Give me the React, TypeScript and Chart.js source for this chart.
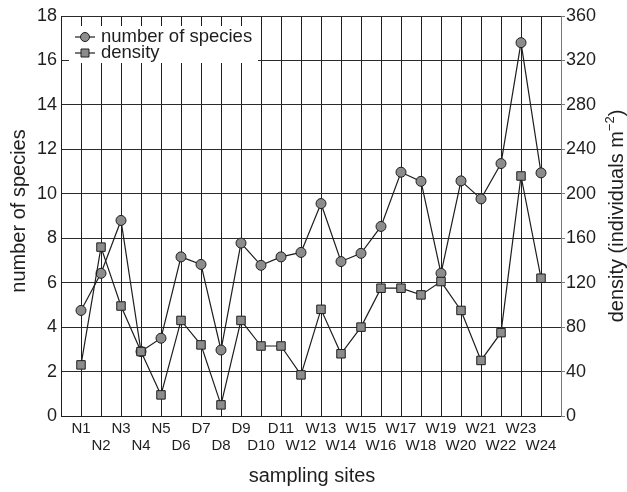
import React, { useEffect, useRef } from "react";
import { Chart, registerables } from "chart.js";

Chart.register(...registerables);

const sites = [
  "N1", "N2", "N3", "N4", "N5", "D6", "D7", "D8", "D9", "D10", "D11", "W12",
  "W13", "W14", "W15", "W16", "W17", "W18", "W19", "W20", "W21", "W22", "W23", "W24",
];
const speciesCount = [
  4.75, 6.42, 8.8, 2.9, 3.5, 7.16, 6.82, 2.97, 7.78, 6.78, 7.16, 7.36,
  9.56, 6.95, 7.32, 8.53, 10.97, 10.56, 6.42, 10.58, 9.77, 11.36, 16.8, 10.94,
];
const density = [
  46, 152, 99, 58, 19, 86, 64, 10, 86, 63, 63, 37,
  96, 56, 80, 115, 115, 109, 121, 95, 50, 75, 216, 124,
];
const speciesTicks = { min: 0, max: 18, step: 2 };
const densityTicks = { min: 0, max: 360, step: 40 };

const FONT = "'Liberation Sans', Arial, Helvetica, sans-serif";
const MARKER_FILL = "#8c8c8c";
const INK = "#1e1e1e";

const overlayPlugin = {
  id: "overlay",
  beforeDatasetsDraw(chart: any) {
    const { ctx, chartArea } = chart;
    ctx.save();
    const bx = chartArea.left + 8;
    const by = chartArea.top + 10;
    ctx.fillStyle = "#ffffff";
    ctx.fillRect(bx, by, 189, 37);
    const rows = [
      { label: "number of species", style: "circle", y: by + 11 },
      { label: "density", style: "rect", y: by + 27 },
    ];
    for (const r of rows) {
      ctx.strokeStyle = INK;
      ctx.lineWidth = 1.2;
      ctx.beginPath();
      ctx.moveTo(bx + 6, r.y);
      ctx.lineTo(bx + 26, r.y);
      ctx.stroke();
      ctx.fillStyle = MARKER_FILL;
      ctx.lineWidth = 1;
      ctx.beginPath();
      if (r.style === "circle") {
        ctx.arc(bx + 16, r.y, 4.5, 0, Math.PI * 2);
      } else {
        ctx.rect(bx + 12, r.y - 4, 8, 8);
      }
      ctx.fill();
      ctx.stroke();
      ctx.fillStyle = INK;
      ctx.font = `18.5px ${FONT}`;
      ctx.textBaseline = "middle";
      ctx.textAlign = "left";
      ctx.fillText(r.label, bx + 32, r.y);
    }
    ctx.restore();
  },
  afterDraw(chart: any) {
    const { ctx, chartArea } = chart;
    ctx.save();
    ctx.fillStyle = INK;
    ctx.textBaseline = "middle";
    ctx.textAlign = "center";
    ctx.font = `20px ${FONT}`;
    // x title
    ctx.fillText("sampling sites", (chartArea.left + chartArea.right) / 2 + 1, 476);
    // left title
    ctx.save();
    ctx.translate(19, (chartArea.top + chartArea.bottom) / 2 - 5);
    ctx.rotate(-Math.PI / 2);
    ctx.fillText("number of species", 0, 0);
    ctx.restore();
    // right title with superscript
    ctx.save();
    ctx.translate(617, (chartArea.top + chartArea.bottom) / 2);
    ctx.rotate(-Math.PI / 2);
    const main = "density (individuals m";
    const sup = "\u22122";
    const close = ")";
    ctx.font = `20px ${FONT}`;
    const w1 = ctx.measureText(main).width;
    const w3 = ctx.measureText(close).width;
    ctx.font = `13px ${FONT}`;
    const w2 = ctx.measureText(sup).width;
    const total = w1 + w2 + w3;
    let x = -total / 2;
    ctx.textAlign = "left";
    ctx.font = `20px ${FONT}`;
    ctx.fillText(main, x, 0);
    x += w1;
    ctx.font = `13px ${FONT}`;
    ctx.fillText(sup, x, -7);
    x += w2;
    ctx.font = `20px ${FONT}`;
    ctx.fillText(close, x, 0);
    ctx.restore();
    ctx.restore();
  },
};

export default function App() {
  const ref = useRef<HTMLCanvasElement>(null);
  useEffect(() => {
    if (!ref.current) return;
    const chart = new Chart(ref.current, {
      type: "line",
      data: {
        datasets: [
          {
            label: "density",
            data: density.map((v, i) => ({ x: i + 1, y: v })),
            yAxisID: "y1",
            order: 0,
            borderColor: INK,
            borderWidth: 1.2,
            pointStyle: "rect",
            pointRadius: 6,
            pointBackgroundColor: MARKER_FILL,
            pointBorderColor: INK,
            pointBorderWidth: 1,
            tension: 0,
          },
          {
            label: "number of species",
            data: speciesCount.map((v, i) => ({ x: i + 1, y: v })),
            yAxisID: "y",
            order: 1,
            borderColor: INK,
            borderWidth: 1.2,
            pointStyle: "circle",
            pointRadius: 5,
            pointBackgroundColor: MARKER_FILL,
            pointBorderColor: INK,
            pointBorderWidth: 1,
            tension: 0,
          },
        ],
      },
      options: {
        responsive: false,
        animation: false,
        layout: { padding: { top: 16, left: 0, right: 0, bottom: 0 } },
        plugins: { legend: { display: false }, tooltip: { enabled: false } },
        scales: {
          x: {
            type: "linear",
            min: 0,
            max: sites.length + 1,
            afterFit: (s: any) => {
              s.height = 76;
            },
            afterBuildTicks: (s: any) => {
              s.ticks = sites.map((_, i) => ({ value: i + 1 }));
            },
            grid: { color: INK, lineWidth: 1, drawTicks: false },
            border: { color: INK, width: 1 },
            ticks: {
              autoSkip: false,
              maxRotation: 0,
              minRotation: 0,
              padding: 4,
              color: INK,
              font: { family: FONT, size: 15, lineHeight: 1.15 },
              callback: (v: any) => {
                const i = Math.round(Number(v)) - 1;
                if (i < 0 || i >= sites.length) return "";
                return i % 2 === 0 ? sites[i] : ["", sites[i]];
              },
            },
          },
          y: {
            position: "left",
            min: speciesTicks.min,
            max: speciesTicks.max,
            afterFit: (s: any) => {
              s.width = 61;
            },
            grid: { color: "#2a2a2a", lineWidth: 1, drawTicks: false },
            border: { color: INK, width: 1 },
            ticks: {
              stepSize: speciesTicks.step,
              padding: 4,
              color: INK,
              font: { family: FONT, size: 18 },
            },
          },
          y1: {
            position: "right",
            min: densityTicks.min,
            max: densityTicks.max,
            afterFit: (s: any) => {
              s.width = 66;
            },
            grid: { drawOnChartArea: false, drawTicks: true, tickLength: 4, color: "#777" },
            border: { color: "#777", width: 1 },
            ticks: {
              stepSize: densityTicks.step,
              padding: 1,
              color: INK,
              font: { family: FONT, size: 18 },
            },
          },
        },
      },
      plugins: [overlayPlugin],
    });
    return () => chart.destroy();
  }, []);
  return (
    <div style={{ position: "absolute", left: 0, top: 0, width: 627, height: 492, background: "#fff" }}>
      <canvas ref={ref} width={627} height={492} style={{ width: 627, height: 492, display: "block" }} />
    </div>
  );
}
